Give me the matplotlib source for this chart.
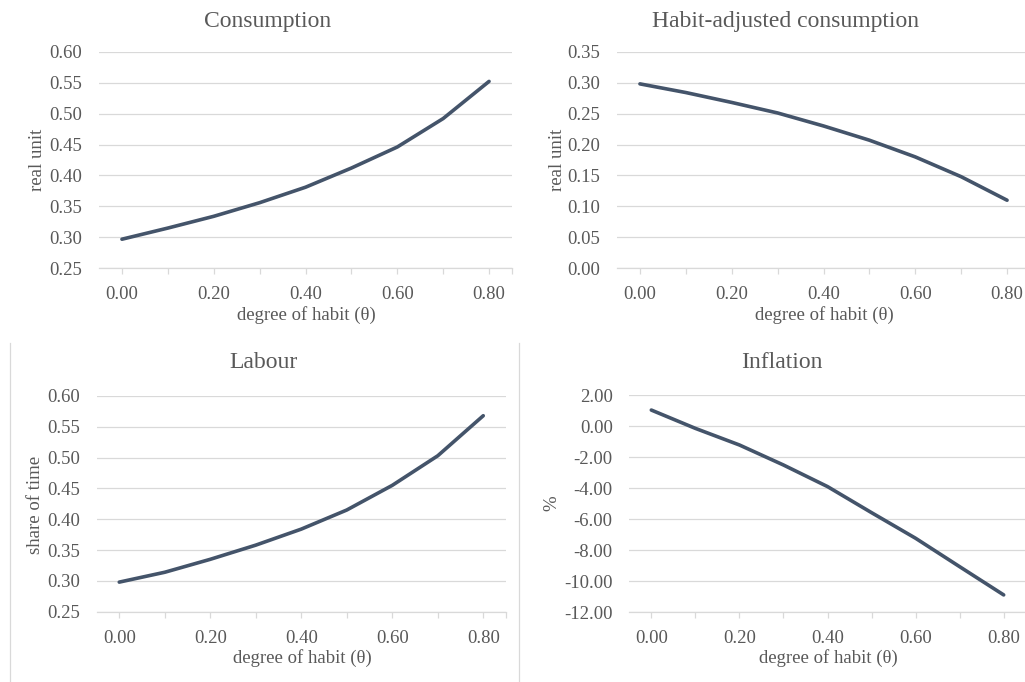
import matplotlib
matplotlib.use("Agg")
import matplotlib.pyplot as plt
from matplotlib.ticker import FormatStrFormatter
from matplotlib.lines import Line2D

# degree of habit (theta) grid
theta = [0.0, 0.1, 0.2, 0.3, 0.4, 0.5, 0.6, 0.7, 0.8]
xtick_labels = ["0.00", "", "0.20", "", "0.40", "", "0.60", "", "0.80"]

# steady-state responses
consumption = [0.297, 0.315, 0.334, 0.356, 0.381, 0.412, 0.446, 0.492, 0.552]
habit_adj_consumption = [0.298, 0.284, 0.268, 0.251, 0.230, 0.207, 0.180, 0.148, 0.110]
labour = [0.298, 0.314, 0.335, 0.358, 0.384, 0.415, 0.455, 0.503, 0.568]
inflation = [1.03, -0.15, -1.22, -2.51, -3.90, -5.58, -7.23, -9.06, -10.88]

TEXT = "#595959"
GRID = "#d9d9d9"
LINE = "#44546A"

plt.rcParams["font.family"] = ["Liberation Serif", "DejaVu Serif"]
plt.rcParams["axes.unicode_minus"] = False

W, H = 1025, 682
fig = plt.figure(figsize=(W / 100, H / 100), dpi=100)


def px(x, y):
    return x / W, 1 - y / H


panels = [
    # title, series, ylabel, yticks, fmt, axes rect (px), title pos, xlabel pos, ylabel pos
    ("Consumption", consumption, "real unit", [0.25 + 0.05 * i for i in range(8)],
     (99, 51.7, 512, 268.3), (268, 21), (306, 315), (38, 160)),
    ("Habit-adjusted consumption", habit_adj_consumption, "real unit", [0.05 * i for i in range(8)],
     (617, 51.7, 1030, 268.3), (785, 21), (824, 315), (557, 160)),
    ("Labour", labour, "share of time", [0.25 + 0.05 * i for i in range(8)],
     (96.5, 396, 506, 611.7), (263, 363), (302, 658), (35, 505)),
    ("Inflation", inflation, "%", [-12 + 2 * i for i in range(8)],
     (629.3, 395, 1025.7, 612.3), (782, 363), (828, 658), (552, 503)),
]

for title, series, ylabel, yticks, rect, tpos, xlpos, ylpos in panels:
    x0, y0, x1, y1 = rect
    ax = fig.add_axes([x0 / W, 1 - y1 / H, (x1 - x0) / W, (y1 - y0) / H])
    ax.plot(theta, series, color=LINE, lw=2.6, solid_capstyle="round", zorder=3)

    ax.set_xlim(-0.05, 0.85)
    ax.set_ylim(yticks[0], yticks[-1])
    ax.set_yticks(yticks)
    ax.yaxis.set_major_formatter(FormatStrFormatter("%.2f"))
    ax.set_xticks(theta + [0.85])
    ax.set_xticklabels(xtick_labels + [""])

    for s in ["top", "right", "left"]:
        ax.spines[s].set_visible(False)
    ax.spines["bottom"].set_color(GRID)
    ax.spines["bottom"].set_linewidth(0.9)
    ax.grid(axis="y", color=GRID, lw=0.9)
    ax.set_axisbelow(True)

    ax.tick_params(axis="y", length=0, pad=12, labelsize=13.5, labelcolor=TEXT)
    ax.tick_params(axis="x", length=4, width=0.9, color=GRID, pad=9,
                   labelsize=13.5, labelcolor=TEXT)

    fig.text(*px(*tpos), title, ha="center", va="center", fontsize=17, color=TEXT)
    fig.text(*px(*xlpos), "degree of habit (\u03b8)", ha="center", va="center",
             fontsize=13.5, color=TEXT)
    fig.text(*px(*ylpos), ylabel, ha="center", va="center", rotation=90,
             fontsize=13.5, color=TEXT)

# chart frame edges of the lower row
for xb in (9.5, 519):
    fig.add_artist(Line2D([xb / W, xb / W], [0, 1 - 343 / H], color=GRID, lw=0.9))

fig.savefig("out.png", dpi=100, facecolor="white")
